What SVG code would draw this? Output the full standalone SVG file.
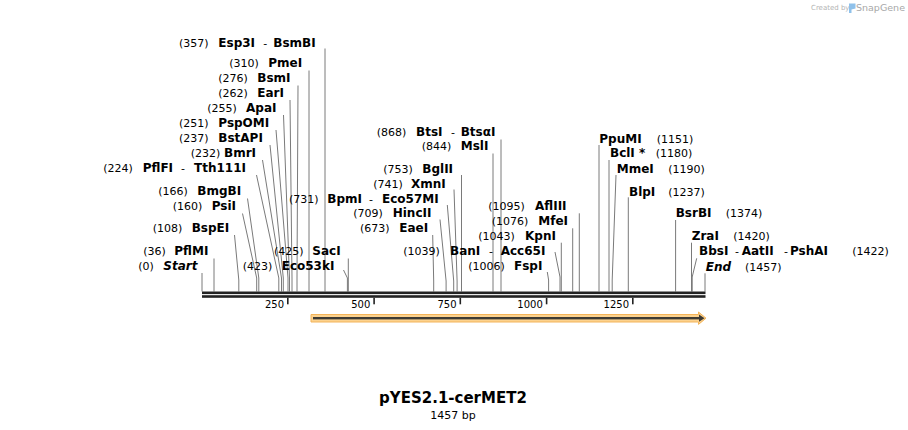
<svg xmlns="http://www.w3.org/2000/svg" width="908" height="430" viewBox="0 0 908 430">
<style>
text{font-family:"DejaVu Sans","Liberation Sans",sans-serif;fill:#000}
.n{font-size:11px}
.b{font-size:12px;font-weight:bold}
.i{font-style:italic}
.t{font-size:10px}
.ld{fill:none;stroke:#7a7a7a;stroke-width:1}
</style>
<rect width="908" height="430" fill="#fff"/>
<g id="logo">
<text x="811" y="10" style="font-size:7px;fill:#b4b4b4">Created by</text>
<path d="M849 3.5 L855.5 3.5 L855.5 8.5 L851.5 9.5 L851.5 13 L849 13 Z" fill="#8fc1ea"/>
<text x="856" y="11" style="font-size:9.5px;fill:#a8a8a8">SnapGene</text>
</g>
<g id="connectors">
<polyline class="ld" points="325,48.5 325,291.5"/>
<polyline class="ld" points="309,70.5 309,291.5"/>
<polyline class="ld" points="298,85.5 297,278 297,291.5"/>
<polyline class="ld" points="290,100 292,278 292,291.5"/>
<polyline class="ld" points="283.5,115 289.5,278 289.5,291.5"/>
<polyline class="ld" points="276,130 288,278 288,291.5"/>
<polyline class="ld" points="270,145 283.3,278 283.3,291.5"/>
<polyline class="ld" points="262.5,160 281.5,278 281.5,291.5"/>
<polyline class="ld" points="256.5,175 278.8,278 278.8,291.5"/>
<polyline class="ld" points="247.5,198.5 258.8,278 258.8,291.5"/>
<polyline class="ld" points="242.5,213.5 256.7,278 256.7,291.5"/>
<polyline class="ld" points="234.5,235 238.8,280 238.8,291.5"/>
<polyline class="ld" points="214,258.5 214,291.5"/>
<polyline class="ld" points="202,273 202,291.5"/>
<polyline class="ld" points="348.3,258.5 348.3,291.5"/>
<polyline class="ld" points="343.5,270 347.4,278 347.4,291.5"/>
<polyline class="ld" points="447.3,205 453.7,281 453.7,291.5"/>
<polyline class="ld" points="454,189.5 457.1,281 457.1,291.5"/>
<polyline class="ld" points="461.5,175 461.5,291.5"/>
<polyline class="ld" points="440,219.5 446.1,281 446.1,291.5"/>
<polyline class="ld" points="432.7,235 433.7,281 433.7,291.5"/>
<polyline class="ld" points="493,153.5 493,291.5"/>
<polyline class="ld" points="501,139.5 501,291.5"/>
<polyline class="ld" points="555,252 560,277 560,291.5"/>
<polyline class="ld" points="547.3,272 548.6,280 548.6,291.5"/>
<polyline class="ld" points="561.3,242.7 561.3,291.5"/>
<polyline class="ld" points="572.7,228.3 572.7,291.5"/>
<polyline class="ld" points="579.3,213.3 579.3,291.5"/>
<polyline class="ld" points="599,145 599,291.5"/>
<polyline class="ld" points="609,160 609,291.5"/>
<polyline class="ld" points="616,175 612.2,280 612.2,291.5"/>
<polyline class="ld" points="628.3,197.3 628.3,291.5"/>
<polyline class="ld" points="675.6,220 675.6,291.5"/>
<polyline class="ld" points="691.5,242.7 691.5,291.5"/>
<polyline class="ld" points="696.7,258.3 692.2,277 692.2,291.5"/>
<polyline class="ld" points="705,273.3 705,291.5"/>
</g>
<g id="map">
<rect x="202" y="291.5" width="503.5" height="2.6" fill="#222"/>
<rect x="202" y="295.2" width="503.5" height="2.6" fill="#222"/>
<g fill="#222">
<rect x="287" y="297.8" width="1.6" height="6.5"/>
<rect x="373.3" y="297.8" width="1.6" height="6.5"/>
<rect x="459.5" y="297.8" width="1.6" height="6.5"/>
<rect x="545.8" y="297.8" width="1.6" height="6.5"/>
<rect x="632" y="297.8" width="1.6" height="6.5"/>
</g>
<text class="t" x="284" y="308" text-anchor="end">250</text>
<text class="t" x="370.3" y="308" text-anchor="end">500</text>
<text class="t" x="456.5" y="308" text-anchor="end">750</text>
<text class="t" x="542.8" y="308" text-anchor="end">1000</text>
<text class="t" x="629" y="308" text-anchor="end">1250</text>
</g>
<g id="feature">
<polygon points="311,314.5 698.5,314.5 698.5,312 706,318.2 698.5,324.4 698.5,322 311,322" fill="#fcd28e" stroke="#f3b45a" stroke-width="1"/>
<rect x="313" y="317" width="387" height="2.4" fill="#3d3a33"/>
<polygon points="699,314.6 704.5,318.2 699,321.8" fill="#3d3a33"/>
</g>
<g id="lbl-Esp3I"><text class="n" x="179" y="46.5">(357)</text><text class="b" x="218.3" y="46.5">Esp3I</text><text class="n" x="263.3" y="46.5">-</text><text class="b" x="273.3" y="46.5">BsmBI</text></g>
<g id="lbl-PmeI"><text class="n" x="229.3" y="67">(310)</text><text class="b" x="268.3" y="67">PmeI</text></g>
<g id="lbl-BsmI"><text class="n" x="218.3" y="82">(276)</text><text class="b" x="257.3" y="82">BsmI</text></g>
<g id="lbl-EarI"><text class="n" x="218.3" y="97">(262)</text><text class="b" x="257.3" y="97">EarI</text></g>
<g id="lbl-ApaI"><text class="n" x="207.3" y="112">(255)</text><text class="b" x="246" y="112">ApaI</text></g>
<g id="lbl-PspOMI"><text class="n" x="179" y="127">(251)</text><text class="b" x="218.3" y="127">PspOMI</text></g>
<g id="lbl-BstAPI"><text class="n" x="179" y="142">(237)</text><text class="b" x="218.3" y="142">BstAPI</text></g>
<g id="lbl-BmrI"><text class="n" x="190.7" y="157">(232)</text><text class="b" x="224" y="157">BmrI</text></g>
<g id="lbl-PflFI"><text class="n" x="103.3" y="171.7">(224)</text><text class="b" x="142.7" y="171.7">PflFI</text><text class="n" x="181" y="171.7">-</text><text class="b" x="194" y="171.7">Tth111I</text></g>
<g id="lbl-BmgBI"><text class="n" x="158.3" y="195">(166)</text><text class="b" x="197.3" y="195">BmgBI</text></g>
<g id="lbl-PsiI"><text class="n" x="172.7" y="210">(160)</text><text class="b" x="211.7" y="210">PsiI</text></g>
<g id="lbl-BspEI"><text class="n" x="152.7" y="231.7">(108)</text><text class="b" x="191.7" y="231.7">BspEI</text></g>
<g id="lbl-PflMI"><text class="n" x="143.3" y="255">(36)</text><text class="b" x="174.3" y="255">PflMI</text></g>
<g id="lbl-Start"><text class="n" x="138.3" y="270">(0)</text><text class="b i" x="163.3" y="270">Start</text></g>
<g id="lbl-SacI"><text class="n" x="274" y="255">(425)</text><text class="b" x="312.3" y="255">SacI</text></g>
<g id="lbl-Eco53kI"><text class="n" x="242.7" y="270">(423)</text><text class="b" x="281.7" y="270">Eco53kI</text></g>
<g id="lbl-BpmI"><text class="n" x="289" y="202.7">(731)</text><text class="b" x="327.3" y="202.7">BpmI</text><text class="n" x="369" y="202.7">-</text><text class="b" x="382" y="202.7">Eco57MI</text></g>
<g id="lbl-BtsI"><text class="n" x="376.7" y="136">(868)</text><text class="b" x="416" y="136">BtsI</text><text class="n" x="451" y="136">-</text><text class="b" x="460.7" y="136">BtsαI</text></g>
<g id="lbl-MslI"><text class="n" x="421.7" y="150">(844)</text><text class="b" x="460.7" y="150">MslI</text></g>
<g id="lbl-BglII"><text class="n" x="383.3" y="173.3">(753)</text><text class="b" x="422.3" y="173.3">BglII</text></g>
<g id="lbl-XmnI"><text class="n" x="373.3" y="187.7">(741)</text><text class="b" x="411" y="187.7">XmnI</text></g>
<g id="lbl-HincII"><text class="n" x="353.3" y="217.3">(709)</text><text class="b" x="392.7" y="217.3">HincII</text></g>
<g id="lbl-EaeI"><text class="n" x="360" y="232.3">(673)</text><text class="b" x="399.3" y="232.3">EaeI</text></g>
<g id="lbl-BanI"><text class="n" x="403.3" y="255">(1039)</text><text class="b" x="450" y="255">BanI</text><text class="n" x="489" y="255">-</text><text class="b" x="500.7" y="255">Acc65I</text></g>
<g id="lbl-FspI"><text class="n" x="468.3" y="270">(1006)</text><text class="b" x="514" y="270">FspI</text></g>
<g id="lbl-AflIII"><text class="n" x="488.3" y="210">(1095)</text><text class="b" x="535" y="210">AflIII</text></g>
<g id="lbl-MfeI"><text class="n" x="491.7" y="225">(1076)</text><text class="b" x="538.3" y="225">MfeI</text></g>
<g id="lbl-KpnI"><text class="n" x="478.3" y="240">(1043)</text><text class="b" x="525" y="240">KpnI</text></g>
<g id="lbl-PpuMI"><text class="b" x="599.3" y="142.7">PpuMI</text><text class="n" x="656.7" y="142.7">(1151)</text></g>
<g id="lbl-BclI"><text class="b" x="610" y="157.3">BclI *</text><text class="n" x="655.7" y="157.3">(1180)</text></g>
<g id="lbl-MmeI"><text class="b" x="616.7" y="173.3">MmeI</text><text class="n" x="668.3" y="173.3">(1190)</text></g>
<g id="lbl-BlpI"><text class="b" x="629" y="196">BlpI</text><text class="n" x="668.3" y="196">(1237)</text></g>
<g id="lbl-BsrBI"><text class="b" x="675.7" y="217.3">BsrBI</text><text class="n" x="725.7" y="217.3">(1374)</text></g>
<g id="lbl-ZraI"><text class="b" x="691.7" y="240">ZraI</text><text class="n" x="733.3" y="240">(1420)</text></g>
<g id="lbl-BbsI"><text class="b" x="699" y="255">BbsI</text><text class="n" x="735" y="255">-</text><text class="b" x="741.7" y="255">AatII</text><text class="n" x="784" y="255">-</text><text class="b" x="790" y="255">PshAI</text><text class="n" x="852.3" y="255">(1422)</text></g>
<g id="lbl-End"><text class="b i" x="705.7" y="270.7">End</text><text class="n" x="745" y="270.7">(1457)</text></g>
<g id="title">
<text x="453" y="403" text-anchor="middle" style="font-size:15px;font-weight:bold">pYES2.1-cerMET2</text>
<text x="453" y="419" text-anchor="middle" style="font-size:11px">1457 bp</text>
</g>
</svg>
